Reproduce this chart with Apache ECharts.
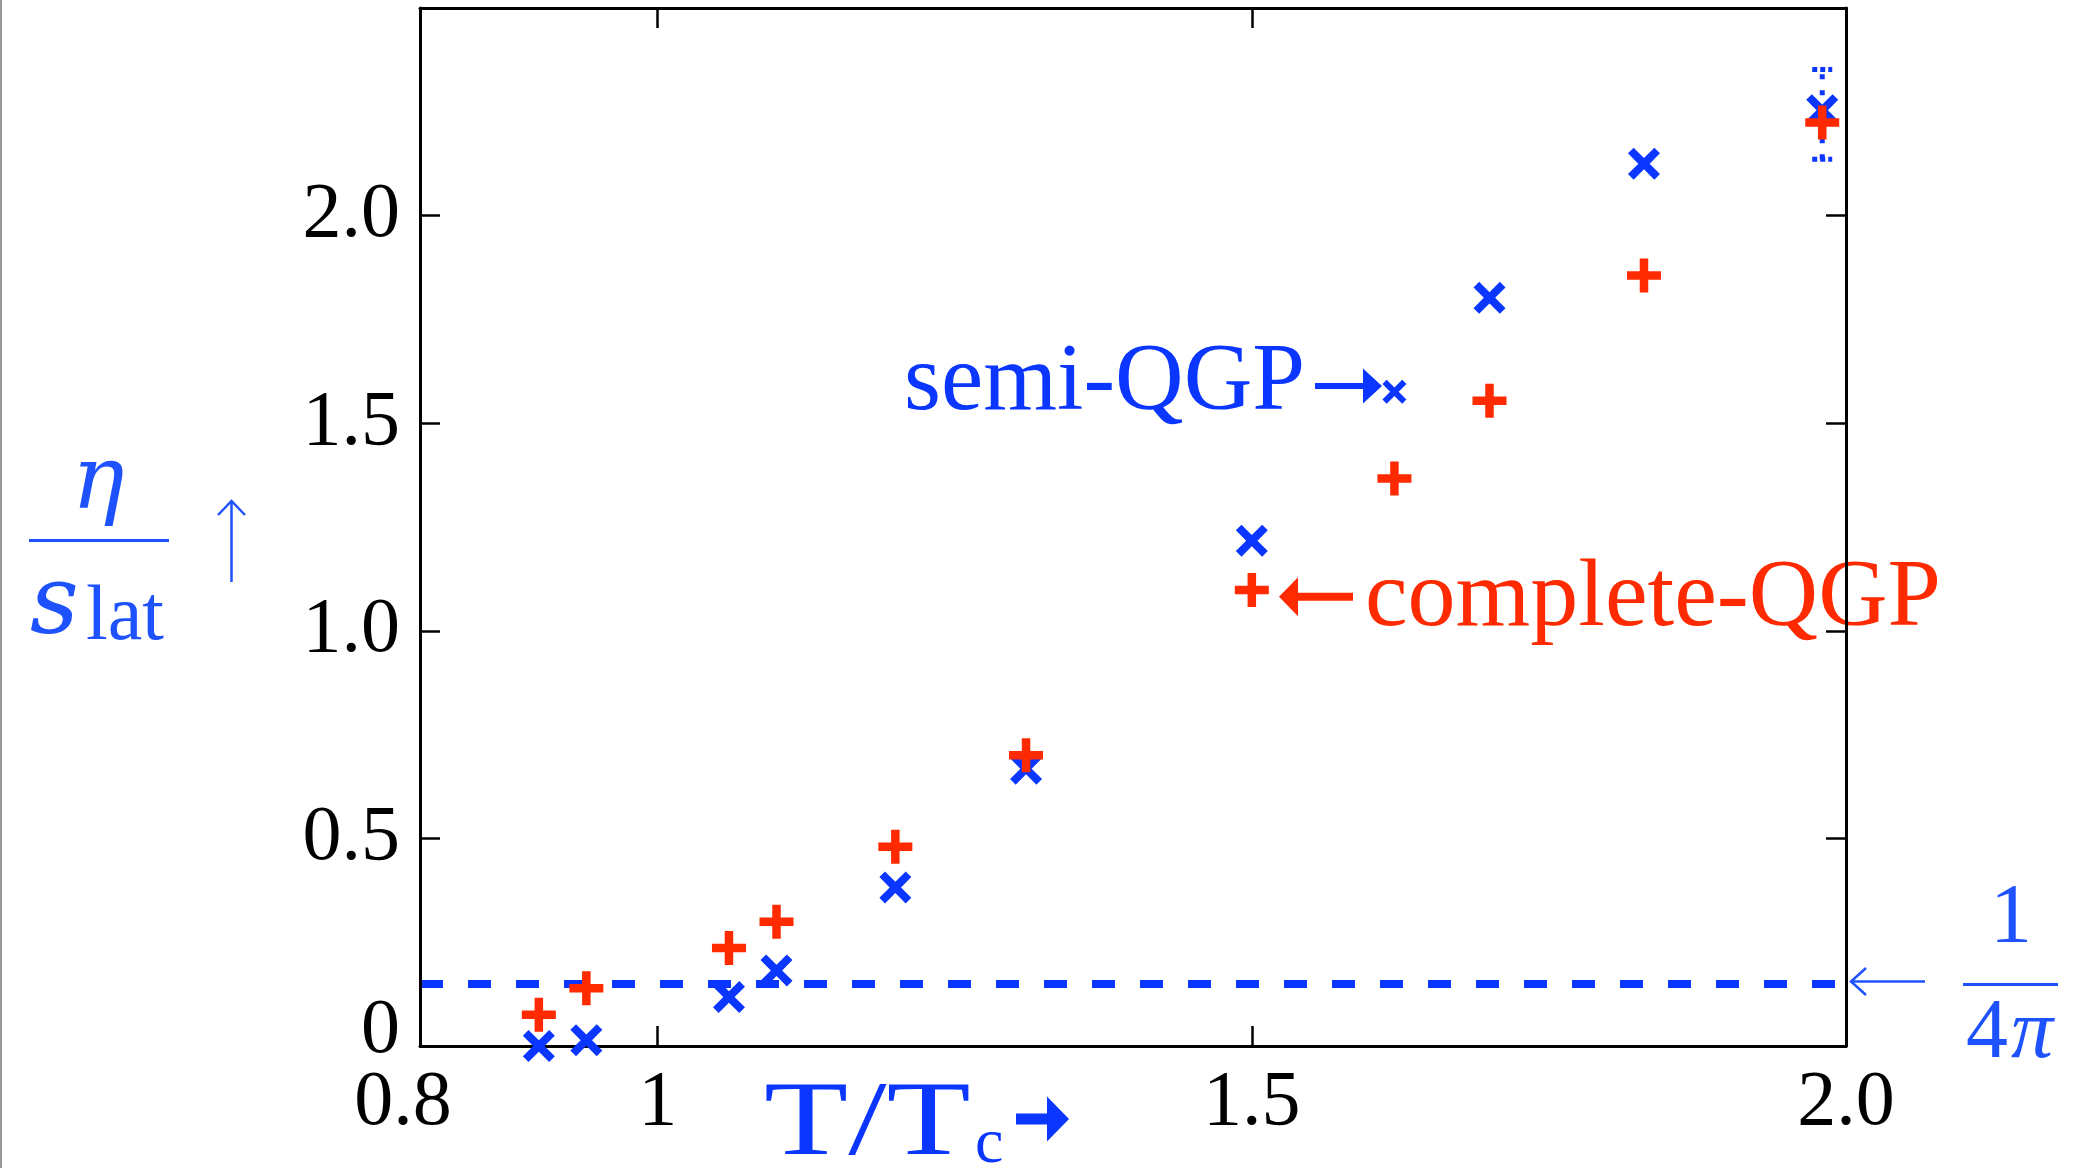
<!DOCTYPE html>
<html lang="en">
<head>
<meta charset="UTF-8">
<title>eta/s vs T/Tc</title>
<script src="https://cdn.jsdelivr.net/npm/echarts@6/dist/echarts.min.js"></script>
<style>
    html, body { margin: 0; padding: 0; background: #fff; }
    #main { width: 2074px; height: 1168px; }
</style>
</head>
<body>
<div id="main"></div>
<script>
    // T/Tc of the lattice points
    var temps = [0.90, 0.94, 1.06, 1.10, 1.20, 1.31, 1.50, 1.62, 1.70, 1.83, 1.98];
    // eta/s_lat, semi-QGP (blue x)
    var semiQGP = [0.000, 0.014, 0.118, 0.182, 0.382, 0.668, 1.217, 1.576, 1.802, 2.125, 2.254];
    // eta/s_lat, complete-QGP (red +)
    var completeQGP = [0.075, 0.139, 0.236, 0.299, 0.480, 0.700, 1.098, 1.367, 1.554, 1.856, 2.224];
    // error bar of the semi-QGP points (only the last one is drawn)
    var semiErrLow = [null, null, null, null, null, null, null, null, null, null, 2.136];
    var semiErrHigh = [null, null, null, null, null, null, null, null, null, null, 2.352];
    // the 1/(4 pi) line as drawn in the figure
    var kssBound = 0.153;
    // tick labels
    var xTickValues = [0.8, 1, 1.5, 2.0];
    var xTickLabels = ['0.8', '1', '1.5', '2.0'];
    var yTickValues = [0, 0.5, 1, 1.5, 2];
    var yTickLabels = ['0', '0.5', '1.0', '1.5', '2.0'];

    var BLUE = '#0a36ff';
    var LBLUE = '#1e52ff';
    var RED = '#ff2a00';
    var SERIF = '"Liberation Serif", "DejaVu Serif", serif';
    var DJV = '"DejaVu Serif", serif';

    // filled x and + shapes
    var crossPath = 'path://M0,5.66L5.66,0L16,10.34L26.34,0L32,5.66L21.66,16L32,26.34L26.34,32L16,21.66L5.66,32L0,26.34L10.34,16Z';
    var plusPath = 'path://M12.75,0H21.25V12.75H34V21.25H21.25V34H12.75V21.25H0V12.75H12.75Z';

    function findIdx(arr, v) {
        for (var i = 0; i < arr.length; i++) {
            if (Math.abs(arr[i] - v) < 1e-6) return i;
        }
        return -1;
    }

    var chartDom = document.getElementById('main');
    var myChart = echarts.init(chartDom, null, {renderer: 'canvas'});

    var axisLineStyle = {color: '#000', width: 3};
    var tickStyle = {color: '#000', width: 2.5};

    function xAxisOpt(pos, labels) {
        return {
            type: 'value', position: pos, min: 0.8, max: 2.0, z: 5,
            axisLine: {show: true, onZero: false, lineStyle: axisLineStyle},
            axisTick: {show: true, inside: true, length: 20, customValues: [1, 1.5], lineStyle: tickStyle},
            axisLabel: {
                show: labels, customValues: xTickValues, margin: 19,
                color: '#000', fontFamily: SERIF, fontSize: 78,
                formatter: function (v) {
                    var i = findIdx(xTickValues, v);
                    if (i < 0) return '';
                    return i === 0 ? '{a|' + xTickLabels[i] + '}' : xTickLabels[i];
                },
                rich: {a: {fontFamily: SERIF, fontSize: 78, color: '#000', padding: [0, 34, 0, 0]}}
            },
            splitLine: {show: false}
        };
    }

    function yAxisOpt(pos, labels) {
        return {
            type: 'value', position: pos, min: 0, max: 2.5, z: 5,
            axisLine: {show: true, onZero: false, lineStyle: axisLineStyle},
            axisTick: {show: true, inside: true, length: 20, customValues: [0.5, 1, 1.5, 2], lineStyle: tickStyle},
            axisLabel: {
                show: labels, customValues: yTickValues, margin: 20,
                color: '#000', fontFamily: SERIF, fontSize: 78,
                formatter: function (v) {
                    var i = findIdx(yTickValues, v);
                    if (i < 0) return '';
                    return i === 0 ? '{z|' + yTickLabels[i] + '}' : yTickLabels[i];
                },
                rich: {z: {fontFamily: SERIF, fontSize: 78, color: '#000', padding: [0, 0, 28, 0]}}
            },
            splitLine: {show: false}
        };
    }

    function txt(x, y, s, font, fill, align, extra) {
        var el = {
            type: 'text', x: x, y: y, z: 1,
            style: {text: s, font: font, fill: fill, align: align, textAlign: align,
                verticalAlign: 'middle', textVerticalAlign: 'middle'}
        };
        if (extra) for (var k in extra) el[k] = extra[k];
        return el;
    }

    var graphics = [
        // grey frame edge at the very left
        {type: 'rect', shape: {x: 0, y: 0, width: 2, height: 1168}, style: {fill: '#9a9a9a'}, z: 1},
        // semi-QGP label
        txt(904, 384, 'semi-QGP', '95px ' + SERIF, BLUE, 'left'),
        {type: 'polygon', z: 1, shape: {points: [[1315, 383], [1363, 383], [1363, 368.5], [1382, 386], [1363, 403.5], [1363, 389], [1315, 389]]}, style: {fill: BLUE}},
        // complete-QGP label
        txt(1365, 600, 'complete-QGP', '96px ' + SERIF, RED, 'left'),
        {type: 'polygon', z: 1, shape: {points: [[1353, 592.7], [1298, 592.7], [1298, 577.2], [1279, 596.7], [1298, 616.2], [1298, 600.7], [1353, 600.7]]}, style: {fill: RED}},
        // x axis name
        txt(764, 1126, 'T/T', '106px ' + SERIF, BLUE, 'left', {scaleX: 1.3}),
        txt(975, 1145, 'c', '64px ' + SERIF, BLUE, 'left'),
        {type: 'polygon', z: 1, shape: {points: [[1016, 1113.5], [1047, 1113.5], [1047, 1096.5], [1069, 1119], [1047, 1141.5], [1047, 1124.5], [1016, 1124.5]]}, style: {fill: BLUE}},
        // y axis name: eta / s_lat  with up arrow
        txt(98, 485, '\u03b7', 'italic 88px ' + DJV, LBLUE, 'center'),
        {type: 'rect', z: 1, shape: {x: 29, y: 539, width: 140, height: 3}, style: {fill: LBLUE}},
        txt(30, 608, 's', 'italic 95px ' + DJV, LBLUE, 'left'),
        txt(86, 619, 'lat', '78px ' + SERIF, LBLUE, 'left'),
        {type: 'line', z: 1, shape: {x1: 231.5, y1: 582, x2: 231.5, y2: 501}, style: {stroke: LBLUE, lineWidth: 2.5}},
        {type: 'polyline', z: 1, shape: {points: [[218, 515], [231.5, 501], [245, 515]]}, style: {stroke: LBLUE, lineWidth: 2.5, fill: null}},
        // 1/(4 pi) label on the right
        {type: 'line', z: 1, shape: {x1: 1851, y1: 981.5, x2: 1925, y2: 981.5}, style: {stroke: LBLUE, lineWidth: 2.5}},
        {type: 'polyline', z: 1, shape: {points: [[1866, 968], [1851, 981.5], [1866, 995]]}, style: {stroke: LBLUE, lineWidth: 2.5, fill: null}},
        txt(2011, 920, '1', '84px ' + SERIF, LBLUE, 'center'),
        {type: 'rect', z: 1, shape: {x: 1963, y: 983, width: 95, height: 3}, style: {fill: LBLUE}},
        txt(1966, 1035, '4', '84px ' + SERIF, LBLUE, 'left'),
        txt(2011, 1035, '\u03c0', 'italic 84px ' + SERIF, LBLUE, 'left')
    ];

    var errData = [];
    temps.forEach(function (t, i) {
        if (semiErrLow[i] != null) errData.push([t, semiErrLow[i], semiErrHigh[i]]);
    });

    var option = {
        animation: false,
        grid: {left: 420, top: 8, right: 228, bottom: 122, containLabel: false},
        xAxis: [xAxisOpt('bottom', true), xAxisOpt('top', false)],
        yAxis: [yAxisOpt('left', true), yAxisOpt('right', false)],
        graphic: {elements: graphics},
        series: [
            {   // dashed 1/(4 pi) line
                type: 'line', data: [], z: 3, silent: true,
                markLine: {
                    silent: true, symbol: ['none', 'none'], label: {show: false},
                    lineStyle: {color: BLUE, width: 8, type: [23, 25]},
                    emphasis: {disabled: true},
                    data: [{yAxis: kssBound}]
                }
            },
            {   // dotted error bar
                type: 'custom', z: 5, silent: true,
                data: errData,
                renderItem: function (params, api) {
                    var lo = api.coord([api.value(0), api.value(1)]);
                    var hi = api.coord([api.value(0), api.value(2)]);
                    var st = {stroke: BLUE, lineWidth: 5, lineDash: [5, 11]};
                    var cap = {stroke: BLUE, lineWidth: 5, lineDash: [5, 3]};
                    return {
                        type: 'group',
                        children: [
                            {type: 'line', shape: {x1: lo[0], y1: lo[1], x2: hi[0], y2: hi[1]}, style: st},
                            {type: 'line', shape: {x1: lo[0] - 10, y1: lo[1], x2: lo[0] + 10, y2: lo[1]}, style: cap},
                            {type: 'line', shape: {x1: hi[0] - 10, y1: hi[1], x2: hi[0] + 10, y2: hi[1]}, style: cap}
                        ]
                    };
                }
            },
            {
                name: 'semi-QGP', type: 'scatter', z: 6, silent: true,
                data: temps.map(function (t, i) { return [t, semiQGP[i]]; }),
                symbol: crossPath,
                symbolSize: function (v, p) { return p.dataIndex === 7 ? 24 : 32; },
                itemStyle: {color: BLUE, opacity: 1}
            },
            {
                name: 'complete-QGP', type: 'scatter', z: 7, silent: true,
                data: temps.map(function (t, i) { return [t, completeQGP[i]]; }),
                symbol: plusPath,
                symbolSize: 34,
                itemStyle: {color: RED, opacity: 1}
            }
        ]
    };
    myChart.setOption(option);
</script>
</body>
</html>
